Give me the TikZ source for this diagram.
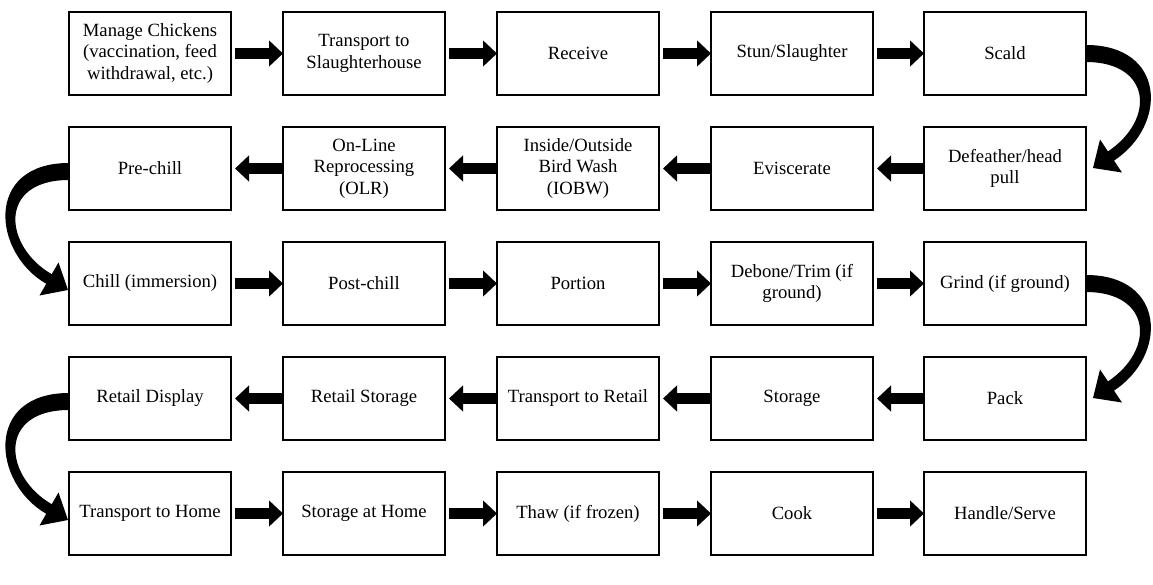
\documentclass[tikz,border=0pt]{standalone}
\usepackage{fontspec}
\setmainfont{Liberation Serif}
\usetikzlibrary{arrows.meta}
\begin{document}
\begin{tikzpicture}[x=0.75pt,y=-0.75pt,
  stepbox/.style={draw=black,line width=1pt,minimum width=121.5pt,minimum height=62.25pt,
     inner sep=1pt,outer sep=0pt,align=center,font=\fontsize{14}{16.2}\selectfont},
  blockarrow/.style={line width=8.5pt,-{Triangle[length=10.5pt,width=19pt]}},
  rcurve/.pic={\fill[black] (0,-8.5) .. controls (80,-8.5) and (82,71.5) .. (28,107.1)
      -- (36,119) -- (7,114.5) -- (14,86) -- (22,97.9)
      .. controls (70,65.5) and (65,8.5) .. (0,8.5) -- cycle;},
  lcurve/.pic={\fill[black] (0,-5.5) .. controls (-85,-5.5) and (-76.7,84.3) .. (-22.75,115.3)
      -- (-29.5,127) -- (-1,121.5) -- (-10.5,94) -- (-17.25,105.7)
      .. controls (-65.1,78.2) and (-72,11.5) .. (0,11.5) -- cycle;}]
\useasboundingbox (0,0) rectangle (1153,585);
% row 1
\node[stepbox] (a1) at (150,53.5) {Manage Chickens\\(vaccination, feed\\withdrawal, etc.)};
\node[stepbox] (a2) at (364,53.5) {Transport to\\Slaughterhouse};
\node[stepbox] (a3) at (578,53.5) {Receive};
\node[stepbox] (a4) at (792,53.5) {Stun/Slaughter};
\node[stepbox] (a5) at (1005,53.5) {Scald};
% row 2
\node[stepbox] (b5) at (1005,168.5) {Defeather/head\\pull};
\node[stepbox] (b4) at (792,168.5) {Eviscerate};
\node[stepbox] (b3) at (578,168.5) {Inside/Outside\\Bird Wash\\(IOBW)};
\node[stepbox] (b2) at (364,168.5) {On-Line\\Reprocessing\\(OLR)};
\node[stepbox] (b1) at (150,168.5) {Pre-chill};
% row 3
\node[stepbox] (c1) at (150,283.5) {Chill (immersion)};
\node[stepbox] (c2) at (364,283.5) {Post-chill};
\node[stepbox] (c3) at (578,283.5) {Portion};
\node[stepbox] (c4) at (792,283.5) {Debone/Trim (if\\ground)};
\node[stepbox] (c5) at (1005,283.5) {Grind (if ground)};
% row 4
\node[stepbox] (d5) at (1005,398.5) {Pack};
\node[stepbox] (d4) at (792,398.5) {Storage};
\node[stepbox] (d3) at (578,398.5) {Transport to Retail};
\node[stepbox] (d2) at (364,398.5) {Retail Storage};
\node[stepbox] (d1) at (150,398.5) {Retail Display};
% row 5
\node[stepbox] (e1) at (150,513.5) {Transport to Home};
\node[stepbox] (e2) at (364,513.5) {Storage at Home};
\node[stepbox] (e3) at (578,513.5) {Thaw (if frozen)};
\node[stepbox] (e4) at (792,513.5) {Cook};
\node[stepbox] (e5) at (1005,513.5) {Handle/Serve};
% straight arrows
\foreach \r in {a,c,e}{
  \foreach \i/\j in {1/2,2/3,3/4,4/5}{
    \draw[blockarrow] ([xshift=3pt]\r\i.east) -- (\r\j.west);
  }
}
\foreach \r in {b,d}{
  \foreach \i/\j in {5/4,4/3,3/2,2/1}{
    \draw[blockarrow] ([xshift=-1pt]\r\i.west) -- ([xshift=3pt]\r\j.east);
  }
}
% curved arrows
\pic at (a5.east) {rcurve};
\pic at (c5.east) {rcurve};
\pic at (b1.west) {lcurve};
\pic at (d1.west) {lcurve};
\end{tikzpicture}
\end{document}
